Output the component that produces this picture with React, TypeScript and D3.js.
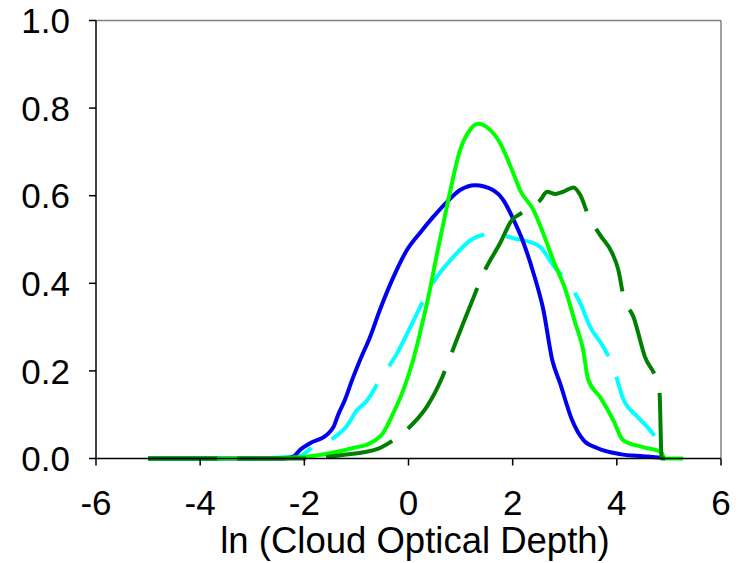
import React from "react";
import * as d3 from "d3";

const xTicks = [-6, -4, -2, 0, 2, 4, 6];
const yTicks = [0, 0.2, 0.4, 0.6, 0.8, 1.0];
const xTitle = "ln (Cloud Optical Depth)";

const blueX = [-5, -4, -3, -2.4, -2.2, -2.08, -1.89, -1.57, -1.44, -1.35, -1.22, -1.08, -0.93, -0.74, -0.55, -0.29, -0.03, 0.22, 0.47, 0.74, 0.99, 1.28, 1.62, 1.82, 2.01, 2.2, 2.4, 2.59, 2.76, 2.91, 3.14, 3.36, 3.62, 4.06, 4.5, 4.85];
const blueY = [0, 0, 0, 0, 0.005, 0.02, 0.035, 0.054, 0.072, 0.1, 0.134, 0.18, 0.225, 0.277, 0.339, 0.414, 0.476, 0.515, 0.551, 0.586, 0.613, 0.624, 0.613, 0.59, 0.547, 0.495, 0.423, 0.339, 0.225, 0.172, 0.088, 0.042, 0.024, 0.01, 0.005, 0.002];

const cyanX = [-5, -4, -3, -2.1, -1.85, -1.44, -1.18, -0.99, -0.8, -0.55, -0.22, 0.13, 0.32, 0.55, 0.86, 1.24, 1.63, 2.01, 2.34, 2.53, 2.78, 3.1, 3.3, 3.49, 3.74, 3.93, 4.13, 4.39, 4.6, 4.83];
const cyanY = [0, 0, 0, 0.005, 0.025, 0.047, 0.075, 0.11, 0.132, 0.18, 0.24, 0.323, 0.369, 0.415, 0.46, 0.502, 0.514, 0.503, 0.494, 0.483, 0.441, 0.396, 0.354, 0.3, 0.255, 0.209, 0.134, 0.096, 0.07, 0.035];

const greenX = [-5, -4, -3, -2.1, -1.51, -1.06, -0.74, -0.49, -0.29, -0.1, 0.09, 0.28, 0.41, 0.55, 0.67, 0.8, 0.99, 1.18, 1.34, 1.53, 1.76, 2.01, 2.14, 2.4, 2.6, 2.8, 3.0, 3.2, 3.35, 3.45, 3.68, 3.93, 4.12, 4.5, 4.85, 4.92, 5.27];
const greenY = [0, 0, 0, 0.003, 0.012, 0.024, 0.035, 0.058, 0.104, 0.156, 0.225, 0.316, 0.385, 0.469, 0.537, 0.61, 0.704, 0.75, 0.764, 0.754, 0.72, 0.652, 0.613, 0.567, 0.51, 0.446, 0.39, 0.31, 0.25, 0.18, 0.14, 0.088, 0.042, 0.026, 0.015, 0, 0];

const darkX = [-5, -4, -3, -2.0, -1.83, -1.26, -0.59, -0.22, 0.09, 0.35, 0.65, 0.8, 1.05, 1.28, 1.44, 1.76, 1.99, 2.14, 2.35, 2.53, 2.66, 2.82, 2.97, 3.17, 3.3, 3.45, 3.68, 3.91, 4.03, 4.13, 4.32, 4.54, 4.77, 4.82, 4.86, 5.0];
const darkY = [0, 0, 0, 0, 0.001, 0.008, 0.022, 0.048, 0.08, 0.118, 0.186, 0.232, 0.309, 0.377, 0.423, 0.492, 0.545, 0.558, 0.575, 0.59, 0.609, 0.604, 0.609, 0.619, 0.601, 0.556, 0.51, 0.469, 0.43, 0.369, 0.323, 0.232, 0.175, 0.15, 0, 0];

const seriesList = [
  { name: "cyan", xs: cyanX, ys: cyanY, color: "#00ffff", dash: "72,22" },
  { name: "blue", xs: blueX, ys: blueY, color: "#0000ee", dash: null },
  { name: "green", xs: greenX, ys: greenY, color: "#00ff00", dash: null },
  { name: "dark", xs: darkX, ys: darkY, color: "#008000", dash: "69,20" },
];

const W = 740;
const H = 563;
const FONT = "'Liberation Sans', Arial, sans-serif";

export default function App() {
  const x = d3.scaleLinear().domain([-6, 6]).range([96, 721]);
  const y = d3.scaleLinear().domain([0, 1]).range([458.5, 20.5]);
  const line = d3
    .line<[number, number]>()
    .x((d) => x(d[0]))
    .y((d) => y(d[1]))
    .curve(d3.curveMonotoneX);

  return (
    <svg
      width={W}
      height={H}
      style={{ position: "absolute", left: 0, top: 0, background: "#fff" }}
    >
      <rect x={0} y={0} width={W} height={H} fill="#fff" />
      <line x1={x(-6)} x2={x(6)} y1={y(1)} y2={y(1)} stroke="#808080" strokeWidth={1.5} />
      <line x1={x(6)} x2={x(6)} y1={y(1)} y2={y(0)} stroke="#808080" strokeWidth={1.5} />
      {seriesList.map((s) => (
        <path
          key={s.name}
          d={line(s.xs.map((v, i) => [v, s.ys[i]] as [number, number])) || ""}
          fill="none"
          stroke={s.color}
          strokeWidth={4}
          strokeDasharray={s.dash || undefined}
          strokeLinejoin="round"
        />
      ))}
      <line x1={x(-6)} x2={x(-6)} y1={y(1)} y2={y(0)} stroke="#000" strokeWidth={1.5} />
      <line x1={x(-6)} x2={x(6)} y1={y(0)} y2={y(0)} stroke="#000" strokeWidth={1.5} />
      {yTicks.map((t) => (
        <g key={"y" + t}>
          <line x1={x(-6) - 7} x2={x(-6)} y1={y(t)} y2={y(t)} stroke="#000" strokeWidth={1.5} />
          <text
            x={70}
            y={y(t)}
            dy="0.36em"
            textAnchor="end"
            fontFamily={FONT}
            fontSize={35}
            fill="#000"
          >
            {d3.format(".1f")(t)}
          </text>
        </g>
      ))}
      {xTicks.map((t) => (
        <g key={"x" + t}>
          <line x1={x(t)} x2={x(t)} y1={y(0)} y2={y(0) + 7} stroke="#000" strokeWidth={1.5} />
          <text
            x={x(t)}
            y={515}
            textAnchor="middle"
            fontFamily={FONT}
            fontSize={35}
            fill="#000"
          >
            {t}
          </text>
        </g>
      ))}
      <text
        x={415}
        y={553}
        textAnchor="middle"
        fontFamily={FONT}
        fontSize={36.5}
        fill="#000"
      >
        {xTitle}
      </text>
    </svg>
  );
}
